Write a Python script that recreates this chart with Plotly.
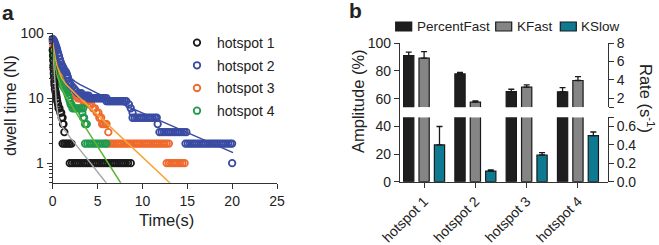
import plotly.graph_objects as go

# ---------------- Panel a data: dwell-time survival points ----------------
h1_t = [0.02, 0.04, 0.06, 0.08, 0.10, 0.12, 0.15, 0.18, 0.20, 0.25, 0.30, 0.35, 0.40, 0.45, 0.50,
        0.60, 0.65, 0.75, 0.85, 0.95, 1.00, 1.10, 1.15, 1.20, 1.30,
        1.10, 1.30, 1.50, 1.70, 1.90, 2.10,
        1.90, 2.15, 2.40, 2.65, 2.90, 3.15, 3.40, 3.65, 3.90, 4.15, 4.40, 4.65, 4.90, 5.15,
        5.40, 5.65, 5.90, 6.15, 6.40, 6.65, 6.90, 7.15, 7.40, 7.65, 7.90, 8.15, 8.40, 8.70]
h1_n = [55, 45, 38, 32, 28, 24, 21, 18, 16, 14, 13, 12, 11, 10, 9,
        8, 7, 7, 6, 6, 5, 5, 4, 4, 3,
        2, 2, 2, 2, 2, 2,
        1, 1, 1, 1, 1, 1, 1, 1, 1, 1, 1, 1, 1, 1,
        1, 1, 1, 1, 1, 1, 1, 1, 1, 1, 1, 1, 1, 1]

h2_t = [0.00, 0.05, 0.10, 0.15, 0.20, 0.25, 0.30, 0.35, 0.40, 0.45, 0.50, 0.60, 0.70, 0.80, 0.90,
        1.00, 1.10, 1.20, 1.30, 1.40, 1.50, 1.60, 1.70, 1.80, 1.90, 2.00, 2.20, 2.40, 2.60, 2.80,
        3.00, 3.20,
        3.20, 3.40, 3.60, 3.80, 4.00,
        4.00, 4.20, 4.40, 4.60, 4.80, 5.00, 5.20, 5.40, 5.60, 5.80, 6.00,
        6.00, 6.20, 6.40, 6.60, 6.80, 7.00, 7.20, 7.40, 7.60, 7.80, 8.00, 8.20,
        8.50, 8.70, 8.90,
        8.90, 9.15, 9.40, 9.65, 9.90, 10.15, 10.40, 10.65, 10.90, 11.15, 11.40, 11.60,
        11.70,
        11.90, 12.15, 12.40, 12.65, 12.90, 13.15, 13.40, 13.65, 13.90, 14.15, 14.40, 14.65, 14.90,
        14.80, 15.05, 15.30, 15.55, 15.80, 16.05, 16.30, 16.55, 16.80, 17.05, 17.30, 17.55, 17.80,
        18.05, 18.30, 18.55, 18.80, 19.05, 19.30, 19.55, 19.80, 20.00,
        20.00]
h2_n = [82, 80, 78, 76, 73, 70, 67, 64, 61, 58, 55, 50, 45, 40, 36,
        33, 31, 29, 27, 26, 25, 23, 21, 18, 17, 16, 15, 14, 13, 12,
        12, 12,
        11, 11, 11, 11, 11,
        10, 10, 10, 10, 10, 10, 10, 10, 10, 10, 10,
        9, 9, 9, 9, 9, 9, 9, 9, 9, 9, 9, 9,
        8, 7, 6,
        5, 5, 5, 5, 5, 5, 5, 5, 5, 5, 5, 5,
        4,
        3, 3, 3, 3, 3, 3, 3, 3, 3, 3, 3, 3, 3,
        2, 2, 2, 2, 2, 2, 2, 2, 2, 2, 2, 2, 2,
        2, 2, 2, 2, 2, 2, 2, 2, 2,
        1]

h3_t = [0.00, 0.05, 0.10, 0.15, 0.20, 0.25, 0.30, 0.40, 0.50, 0.60, 0.70, 0.80, 0.90, 1.00,
        1.20, 1.40, 1.60, 1.80, 2.00, 2.20, 2.40, 2.60,
        2.80, 3.00, 3.20, 3.40,
        3.40, 3.60, 3.80, 4.00,
        4.10, 4.30, 4.50, 4.70, 4.90, 5.10, 5.20, 5.40, 5.50, 5.70, 5.90, 6.00, 6.20,
        6.20, 6.45, 6.70, 6.95, 7.20, 7.45, 7.70, 7.95, 8.20, 8.45, 8.70, 8.95, 9.20, 9.45,
        9.70, 9.95, 10.20, 10.45, 10.70, 10.95, 11.20, 11.45, 11.70, 11.95, 12.20, 12.45, 12.70, 12.95,
        12.70, 12.95, 13.20, 13.45, 13.70, 13.95, 14.20, 14.45, 14.70]
h3_n = [75, 68, 60, 54, 48, 44, 40, 35, 31, 28, 26, 24, 22, 20,
        18, 16, 15, 14, 13, 12, 11, 11,
        10, 10, 10, 10,
        9, 9, 9, 9,
        8, 8, 7, 7, 6, 6, 5, 5, 4, 4, 4, 4, 3,
        2, 2, 2, 2, 2, 2, 2, 2, 2, 2, 2, 2, 2, 2,
        2, 2, 2, 2, 2, 2, 2, 2, 2, 2, 2, 2, 2, 2,
        1, 1, 1, 1, 1, 1, 1, 1, 1]

h4_t = [0.00, 0.05, 0.10, 0.15, 0.20, 0.25, 0.30, 0.40, 0.50, 0.60, 0.70, 0.80, 0.90, 1.00,
        1.10, 1.20, 1.35, 1.50, 1.60, 1.70, 1.80, 1.90,
        2.00, 2.10,
        2.20, 2.40, 2.60, 2.80, 3.00, 3.20, 3.40,
        3.30, 3.40, 3.50, 3.60, 3.80,
        3.60, 3.85, 4.10, 4.35, 4.60, 4.85, 5.10, 5.35, 5.60, 5.85, 6.00]
h4_n = [55, 48, 42, 37, 33, 30, 27, 24, 22, 21, 20, 19, 18, 17,
        16, 15, 14, 13, 12, 11, 10, 9,
        8, 8,
        7, 7, 7, 7, 7, 7, 7,
        6, 5, 5, 4, 4,
        2, 2, 2, 2, 2, 2, 2, 2, 2, 2, 2]

# fitted curves
fit1_t = [0, 0.1, 0.2, 0.3, 0.4, 0.5, 0.7, 1.0, 1.5, 2, 3, 4, 5, 6]
fit1_n = [60, 34, 20.2, 12.8, 8.8, 6.65, 4.7, 3.71, 2.96, 2.43, 1.63, 1.09, 0.73, 0.49]
fit2_t = [0, 0.25, 0.5, 0.75, 1, 1.5, 2, 2.5, 3, 4, 5, 7.5, 10, 12.5, 15, 17.5, 20.1]
fit2_n = [80, 61.1, 48.1, 39.0, 32.7, 24.9, 20.6, 18.0, 16.3, 13.8, 11.9, 8.4, 5.9, 4.17, 2.94, 2.07, 1.45]
fit3_t = [0, 0.1, 0.2, 0.3, 0.5, 0.75, 1, 1.5, 2, 3, 4, 6, 8, 10, 12, 13.5]
fit3_n = [71, 57.7, 47.8, 40.5, 30.8, 24.1, 20.4, 16.3, 13.8, 10.2, 7.5, 4.13, 2.27, 1.24, 0.68, 0.435]
fit4_t = [0, 0.1, 0.2, 0.3, 0.5, 0.75, 1, 1.5, 2, 3, 4, 5, 6, 7, 7.6]
fit4_n = [60, 46.6, 37.2, 30.6, 22.4, 17.1, 14.1, 10.5, 8.1, 4.9, 2.98, 1.81, 1.10, 0.66, 0.49]

series_names = ["hotspot 1", "hotspot 2", "hotspot 3", "hotspot 4"]
x_ticks_a = [0, 5, 10, 15, 20, 25]

# ---------------- Panel b data ----------------
categories = ["hotspot 1", "hotspot 2", "hotspot 3", "hotspot 4"]
bar_names = ["PercentFast", "KFast", "KSlow"]
percent_fast = [91.1, 77.9, 65.1, 65.0]
percent_fast_err = [2.5, 1.0, 1.7, 3.0]
k_fast = [6.37, 1.56, 3.20, 3.93]
k_fast_err = [0.73, 0.14, 0.25, 0.43]
k_slow = [0.40, 0.116, 0.29, 0.50]
k_slow_err = [0.20, 0.012, 0.025, 0.04]

FONT = "Liberation Sans, Arial, sans-serif"
TXT = "#222222"
AX = "#333333"

pt_colors = ["#1a1a1a", "#3a4ba3", "#ef6a2c", "#21994c"]
fit_colors = ["#a8a8a8", "#3a4ba3", "#f5a43a", "#5db532"]
bar_colors = ["#1e1e1e", "#858585", "#0e7a92"]

fig = go.Figure()

pts = [(h1_t, h1_n), (h2_t, h2_n), (h3_t, h3_n), (h4_t, h4_n)]
draw_order = [2, 3, 0, 1]
for i in draw_order:
    t, n = pts[i]
    fig.add_trace(go.Scatter(
        x=t, y=n, mode="markers", name=series_names[i], legend="legend",
        legendrank=i + 1, legendgroup=series_names[i],
        marker=dict(symbol="circle-open", size=6.5, color=pt_colors[i], line=dict(width=1.8)),
        cliponaxis=False, xaxis="x", yaxis="y"))

fits = [(fit1_t, fit1_n), (fit2_t, fit2_n), (fit3_t, fit3_n), (fit4_t, fit4_n)]
for i, (t, n) in enumerate(fits):
    fig.add_trace(go.Scatter(
        x=t, y=n, mode="lines", showlegend=False,
        line=dict(color=fit_colors[i], width=1.5), xaxis="x", yaxis="y"))

# Panel b bars
BAR_LINE = dict(color="#1a1a1a", width=1.2)
def err(arr):
    return dict(type="data", array=arr, arrayminus=[0] * len(arr), symmetric=False,
                color="#1a1a1a", thickness=1.3, width=3)

fig.add_trace(go.Bar(
    x=categories, y=percent_fast, name=bar_names[0], showlegend=False,
    marker=dict(color=bar_colors[0], line=BAR_LINE), width=0.2, offset=-0.4,
    error_y=err(percent_fast_err), xaxis="x2", yaxis="y2"))
# KFast: lower part of the broken axis (bars pass through to the upper segment)
fig.add_trace(go.Bar(
    x=categories, y=k_fast, name=bar_names[1], showlegend=False,
    marker=dict(color=bar_colors[1], line=BAR_LINE), width=0.2, offset=-0.1,
    xaxis="x2", yaxis="y3"))
fig.add_trace(go.Bar(
    x=categories, y=k_fast, name=bar_names[1], showlegend=False,
    marker=dict(color=bar_colors[1], line=BAR_LINE), width=0.2, offset=-0.1,
    error_y=err(k_fast_err), xaxis="x2", yaxis="y4"))
fig.add_trace(go.Bar(
    x=categories, y=k_slow, name=bar_names[2], showlegend=False,
    marker=dict(color=bar_colors[2], line=BAR_LINE), width=0.2, offset=0.2,
    error_y=err(k_slow_err), xaxis="x2", yaxis="y3"))

W, H = 659, 245
def px(x):
    return x / W
def py(y):
    return 1 - y / H

axis_common = dict(showline=True, linecolor=AX, linewidth=1.3, ticks="outside", tickcolor=AX,
                   tickwidth=1.3, ticklen=5, showgrid=False, zeroline=False, automargin=False,
                   tickfont=dict(family=FONT, size=14, color=TXT))

yb0, yb1 = py(181.7), py(43.3)

fig.update_layout(
    width=W, height=H,
    margin=dict(l=0, r=0, t=0, b=0, autoexpand=False),
    paper_bgcolor="white", plot_bgcolor="rgba(0,0,0,0)",
    font=dict(family=FONT, size=14, color=TXT),
    barmode="overlay",
    xaxis=dict(domain=[px(52.7), px(277)], range=[0, 25], tickvals=x_ticks_a, anchor="y",
               **axis_common),
    yaxis=dict(domain=[py(182.7), py(33.3)], type="log", range=[-0.301, 2], anchor="x",
               tickvals=[1, 10, 100], ticktext=["1", "10", "100"],
               minor=dict(ticks="outside", ticklen=3, tickcolor=AX, tickwidth=1.1, dtick="D1"),
               **axis_common),
    xaxis2=dict(domain=[px(400), px(607.7)], range=[-0.47, 3.58], anchor="y2",
                tickangle=-45, type="category", **axis_common),
    yaxis2=dict(domain=[yb0, yb1], range=[0, 100], tickvals=[0, 20, 40, 60, 80, 100], anchor="x2",
                **axis_common),
    yaxis3=dict(domain=[yb0, py(117.3)], range=[0, 0.7], anchor="x2", side="right",
                tickvals=[0, 0.2, 0.4, 0.6], ticktext=["0.0", "0.2", "0.4", "0.6"],
                minor=dict(tickvals=[0.7], ticks="outside", ticklen=5, tickcolor=AX, tickwidth=1.3),
                **axis_common),
    yaxis4=dict(domain=[py(107.3), yb1], range=[1, 8], anchor="x2", side="right",
                tickvals=[2, 4, 6, 8],
                minor=dict(tickvals=[1], ticks="outside", ticklen=5, tickcolor=AX, tickwidth=1.3),
                **axis_common),
    legend=dict(x=px(177), y=py(27), xanchor="left", yanchor="top", bgcolor="rgba(0,0,0,0)",
                font=dict(family=FONT, size=14, color=TXT), traceorder="grouped",
                tracegroupgap=1.5),
    showlegend=True,
)

# white break across the bars of panel b
fig.add_shape(type="rect", xref="paper", yref="paper", x0=px(401.2), x1=px(606.8),
              y0=py(117.3), y1=py(107.3), fillcolor="white", line=dict(width=0), layer="above")

# legend of panel b (swatches + labels)
leg_x = [395.7, 495.7, 560.3]
for name, col, x0 in zip(bar_names, bar_colors, leg_x):
    fig.add_shape(type="rect", xref="paper", yref="paper", x0=px(x0), x1=px(x0 + 16),
                  y0=py(31), y1=py(22), fillcolor=col, line=dict(color="#1a1a1a", width=1.2))
    fig.add_annotation(xref="paper", yref="paper", x=px(x0 + 19), y=py(26.5), text=name,
                       showarrow=False, xanchor="left", yanchor="middle",
                       font=dict(family=FONT, size=13.5, color=TXT))

ann = [
    dict(text="<b>a</b>", x=px(8), y=py(13), font=dict(size=21)),
    dict(text="<b>b</b>", x=px(355), y=py(11), font=dict(size=21)),
    dict(text="dwell time (N)", x=px(10), y=py(106), textangle=-90, font=dict(size=16.5)),
    dict(text="Time(s)", x=px(166), y=py(220), font=dict(size=16.5)),
    dict(text="Amplitude (%)", x=px(358), y=py(101), textangle=-90, font=dict(size=16.5)),
    dict(text="Rate (s<sup>-1</sup>)", x=px(647), y=py(98), textangle=90, font=dict(size=16.5)),
]
for a in ann:
    f = dict(family=FONT, color=TXT)
    f.update(a.pop("font"))
    fig.add_annotation(xref="paper", yref="paper", showarrow=False, xanchor="center",
                       yanchor="middle", font=f, **a)

fig.write_html("out.html", config={"displayModeBar": False},
               post_script="document.body.style.margin='0';")
